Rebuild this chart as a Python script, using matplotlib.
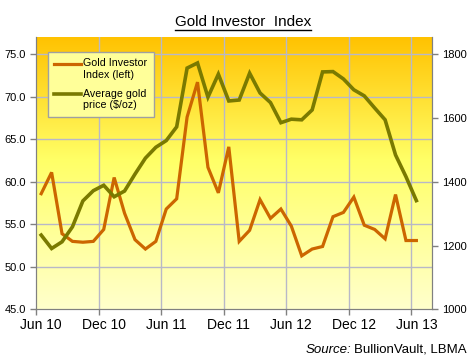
import numpy as np
import matplotlib
matplotlib.use("Agg")
import matplotlib.pyplot as plt
from matplotlib.lines import Line2D
from matplotlib.legend_handler import HandlerLine2D

plt.rcParams['font.family'] = ['Liberation Sans', 'DejaVu Sans']

# monthly data, Jun 2010 .. Jun 2013
investor_index = [58.6, 61.1, 53.9, 53.0, 52.9, 53.0, 54.4, 60.5, 56.3, 53.2,
                  52.1, 53.0, 56.8, 58.0, 67.6, 71.7, 61.7, 58.7, 64.1, 53.0,
                  54.3, 57.9, 55.7, 56.8, 54.8, 51.3, 52.1, 52.4, 55.9, 56.4,
                  58.2, 54.9, 54.4, 53.3, 58.5, 53.1, 53.1]
gold_price = [1233, 1191, 1212, 1259, 1340, 1372, 1389, 1353, 1371, 1424,
              1474, 1508, 1529, 1572, 1756, 1772, 1665, 1737, 1653, 1656,
              1740, 1678, 1648, 1585, 1596, 1594, 1625, 1744, 1745, 1722,
              1688, 1669, 1631, 1594, 1484, 1416, 1341]
tick_labels = ["Jun 10", "Dec 10", "Jun 11", "Dec 11", "Jun 12", "Dec 12", "Jun 13"]

x = np.arange(len(investor_index))


# legend line sits next to the first line of a two-line label
class TopLineHandler(HandlerLine2D):
    def create_artists(self, legend, orig_handle, xdescent, ydescent, width,
                       height, fontsize, trans):
        arts = super().create_artists(legend, orig_handle, xdescent, ydescent,
                                      width, height, fontsize, trans)
        for a in arts:
            a.set_ydata(np.asarray(a.get_ydata()) + 0.55 * fontsize)
        return arts


fig = plt.figure(figsize=(4.71, 3.59), dpi=100)
ax = fig.add_axes([0.0764, 0.1379, 0.8408, 0.759])
ax2 = ax.twinx()
ax2.set_zorder(ax.get_zorder() + 1)
ax2.patch.set_visible(False)

# gradient background of the plot area
stops = [(0.0, (1.0, 0.76, 0.0)), (0.45, (1.0, 1.0, 0.40)), (1.0, (1.0, 1.0, 0.80))]
t = np.linspace(0, 1, 256)
grad = np.zeros((256, 1, 3))
for c in range(3):
    grad[:, 0, c] = np.interp(t, [s[0] for s in stops], [s[1][c] for s in stops])
ax.imshow(grad, extent=[-0.5, 37.5, 45, 77], aspect='auto', zorder=0)

ax.set_xlim(-0.5, 37.5)
ax.set_ylim(45, 77)
ax2.set_ylim(1000, 1853.3)

grid_c = '#B8B8C8'
for yv in range(50, 76, 5):
    ax.axhline(yv, color=grid_c, lw=1.0, zorder=1)
for k in range(1, 7):
    ax.axvline(-0.5 + 6 * k, color=grid_c, lw=1.0, zorder=1)

l1, = ax.plot(x, investor_index, color='#CC6600', lw=2.3, zorder=3,
              label='Gold Investor\nIndex (left)', solid_joinstyle='miter')
l2, = ax2.plot(x, gold_price, color='#7A7A00', lw=2.6, zorder=3,
               label='Average gold\nprice ($/oz)', solid_joinstyle='miter')

ax.set_yticks(range(45, 76, 5))
ax.set_yticklabels([f"{v:.1f}" for v in range(45, 76, 5)])
ax2.set_yticks(range(1000, 1801, 200))

ax.set_xticks([-0.5 + 6 * k for k in range(7)])
ax.set_xticklabels([])
ax.set_xticks([6 * k for k in range(7)], minor=True)
ax.set_xticklabels(tick_labels, minor=True)

spine_c = '#808080'
for a in (ax, ax2):
    for s in a.spines.values():
        s.set_color(spine_c)
    a.spines['top'].set_visible(False)
    a.tick_params(colors=spine_c, labelcolor='black', labelsize=8, length=4, width=1)
ax.tick_params(axis='x', which='minor', length=0, pad=6)
ax.tick_params(axis='x', which='major', length=4)
ax.tick_params(axis='y', pad=3)
ax2.tick_params(axis='y', pad=3)

leg = ax2.legend(handles=[l1, l2], loc='upper left', bbox_to_anchor=(0.03, 0.945),
                 borderaxespad=0, fontsize=7.7, frameon=True, fancybox=False,
                 handlelength=2.5, handletextpad=0.2, labelspacing=0.8,
                 borderpad=0.6,
                 handler_map={Line2D: TopLineHandler()})
leg.get_frame().set_facecolor('#FFFF99')
leg.get_frame().set_edgecolor('#A0A0A0')
leg.get_frame().set_alpha(1)
leg.set_zorder(5)

title = fig.text(243 / 471, 1 - 22 / 359, "Gold Investor  Index", ha='center',
                 va='center', fontsize=11)
src = fig.text(467 / 471, 1 - 350 / 359, "BullionVault, LBMA", ha='right',
               va='center', fontsize=9.5)
fig.canvas.draw()
r = fig.canvas.get_renderer()
bb = src.get_window_extent(r)
fig.text(bb.x0 / 471 - 0.006, 1 - 350 / 359, "Source:", ha='right', va='center',
         fontsize=9.5, style='italic')

tb = title.get_window_extent(r)
fig.add_artist(Line2D([tb.x0 / 471, tb.x1 / 471], [(tb.y0 - 1) / 359] * 2,
                      color='black', lw=1.0))

fig.savefig("out.png", dpi=100)
